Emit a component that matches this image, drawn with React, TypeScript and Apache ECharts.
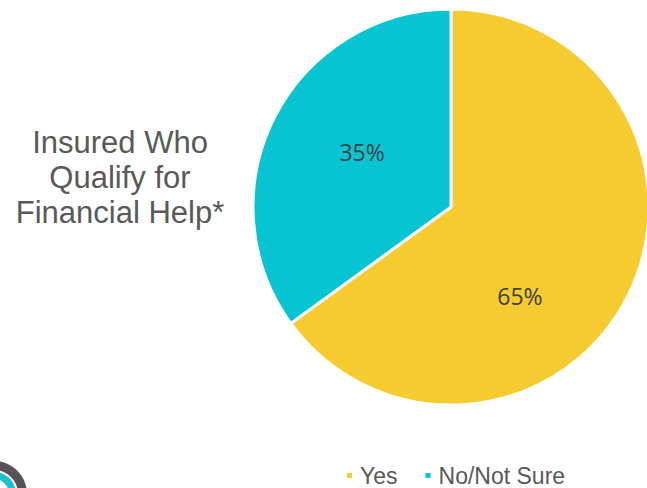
import React, { useEffect, useRef } from "react";
import * as echarts from "echarts";

const categories = ["Yes", "No/Not Sure"];
const values = [65, 35];
const colors = ["#F6CB2F", "#07C4D3"];
const titleLines = ["Insured Who", "Qualify for", "Financial Help*"];
const labelShift = [
  [-22, 43],
  [2, -9],
];

export default function App() {
  const ref = useRef<HTMLDivElement>(null);
  useEffect(() => {
    document.body.style.margin = "0";
    const chart = echarts.init(ref.current!, null, { renderer: "svg" });
    chart.setOption({
      animation: false,
      backgroundColor: "#ffffff",
      color: colors,
      legend: {
        data: categories,
        left: 345,
        top: 464,
        padding: 0,
        icon: "rect",
        itemWidth: 7,
        itemHeight: 7,
        itemGap: 26,
        textStyle: {
          fontSize: 23,
          lineHeight: 23,
          color: "#595959",
          fontFamily: "Liberation Sans, Arial, sans-serif",
          padding: [0, 0, 0, 2],
        },
      },
      graphic: [
        {
          type: "text",
          x: 120,
          y: 177,
          style: {
            text: titleLines.join("\n"),
            align: "center",
            verticalAlign: "middle",
            fontSize: 31,
            lineHeight: 35,
            fill: "#595959",
            fontFamily: "Liberation Sans, Arial, sans-serif",
          },
        },
        {
          type: "ring",
          shape: { cx: -6, cy: 494, r: 33, r0: 24 },
          style: { fill: "#57505D" },
        },
        {
          type: "ring",
          shape: { cx: -6, cy: 494, r: 22, r0: 15 },
          style: { fill: "#1CBFCF" },
        },
      ],
      series: [
        {
          type: "pie",
          center: [451, 207],
          radius: 198,
          startAngle: 90,
          clockwise: true,
          data: categories.map((c, i) => ({ name: c, value: values[i] })),
          itemStyle: { borderColor: "#ffffff", borderWidth: 3 },
          label: {
            show: true,
            position: "inside",
            formatter: "{c}%",
            fontSize: 23,
            color: "#404040",
            fontFamily: "Open Sans, sans-serif",
          },
          labelLine: { show: false },
          labelLayout: (p: any) => ({
            dx: labelShift[p.dataIndex][0],
            dy: labelShift[p.dataIndex][1],
          }),
          emphasis: { disabled: true },
        },
      ],
    });
    return () => chart.dispose();
  }, []);
  return <div ref={ref} style={{ width: 647, height: 488 }} />;
}
